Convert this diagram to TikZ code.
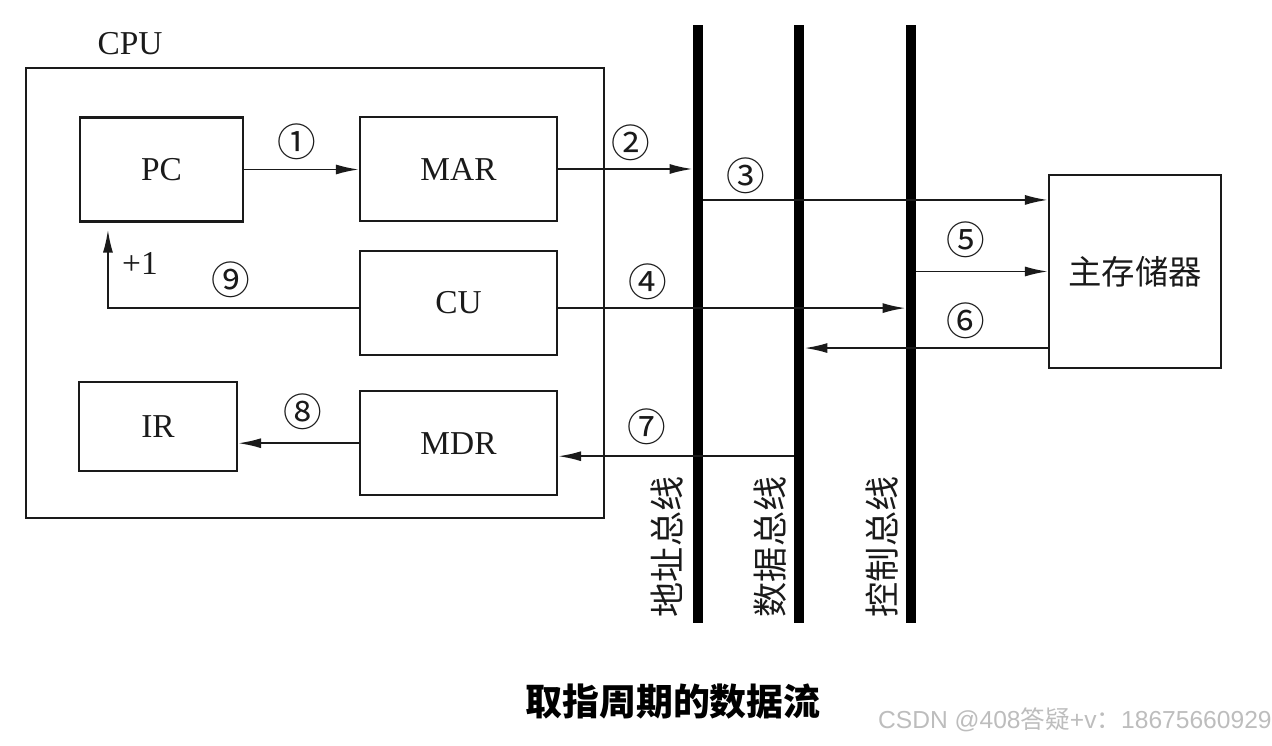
\documentclass[tikz,border=0pt]{standalone}
\usepackage{fontspec}
\setmainfont{Liberation Serif}
\setsansfont{Liberation Sans}
\newfontfamily\cjk{Noto Sans CJK SC}
\usetikzlibrary{arrows.meta,positioning,calc}
\definecolor{linedark}{HTML}{1A1A1A}
\definecolor{markgray}{HTML}{BDBDBD}
\tikzset{
  >=Latex,
  reg/.style={
    rectangle, draw=linedark, line width=1.2pt, align=center,
    minimum width=3.94cm, minimum height=2.08cm, inner sep=0pt,
    font=\fontsize{19}{22}\selectfont, text=linedark
  },
  bus/.style={rectangle, fill=black, minimum width=0.2cm, minimum height=11.96cm, inner sep=0pt},
  buslabel/.style={rotate=90, font=\cjk\fontsize{20}{22}\selectfont, text=linedark},
  arrow/.style={-{Latex[length=4.6mm,width=2mm]}, line width=1.1pt, draw=linedark},
  circnum/.style={font=\cjk\fontsize{22}{24}\selectfont, inner sep=0pt, text=linedark},
  plain/.style={font=\fontsize{19}{22}\selectfont, inner sep=0pt, text=linedark},
  title/.style={font=\cjk\bfseries\fontsize{21}{24}\selectfont},
  watermark/.style={font=\sffamily\fontsize{14}{16}\selectfont, text=markgray, inner sep=0pt}
}

\begin{document}
\begin{tikzpicture}
\useasboundingbox (0,0) rectangle (25.44,14.9);
\node[draw=linedark, line width=1.2pt, minimum width=11.56cm, minimum height=9cm, inner sep=0pt] (cpu) at (6.30,9.04) {};
\node[plain] (cpulabel) at (2.60,14.02) {CPU};
\node[reg, minimum width=3.26cm] (pc) at (3.23,11.51) {PC};
\node[reg] (mar) at (9.17,11.52) {MAR};
\node[reg, below=0.56cm of mar] (cu) {CU};
\node[reg, below=0.68cm of cu] (mdr) {MDR};
\node[reg, minimum width=3.16cm, minimum height=1.78cm] (ir) at (3.16,6.37) {IR};
\node[reg, minimum width=3.44cm, minimum height=3.86cm] (mem) at (22.70,9.47) {\cjk 主存储器};
\node[bus] (abus) at (13.96,8.42) {};
\node[bus] (dbus) at (15.98,8.42) {};
\node[bus] (cbus) at (18.22,8.42) {};
\node[buslabel] (alabel) at (13.34,3.96) {地址总线};
\node[buslabel] (dlabel) at (15.40,3.96) {数据总线};
\node[buslabel] (clabel) at (17.64,3.96) {控制总线};
\coordinate (m3) at ([yshift=-0.52cm]mem.north west);
\coordinate (m6) at ([yshift=0.42cm]mem.south west);
\coordinate (d7) at ([yshift=-0.26cm]mdr.east);
\coordinate (c4) at ([yshift=-0.1cm]cu.east);
\coordinate (c9) at ([yshift=-0.1cm]cu.west);
\draw[arrow] (pc.east) -- (pc.east -| mar.west);
\draw[arrow] (mar.east) -- (mar.east -| abus.west);
\draw[arrow] (m3 -| abus.east) -- (m3);
\draw[arrow] (c4) -- (c4 -| cbus.west);
\draw[arrow] (mem.west -| cbus.east) -- (mem.west);
\draw[arrow] (m6) -- (m6 -| dbus.east);
\draw[arrow] (d7 -| dbus.west) -- (d7);
\draw[arrow] (mdr.west) -- (mdr.west -| ir.east);
\draw[arrow] (c9) -| ([xshift=0.58cm,yshift=-0.14cm]pc.south west);
\node[circnum] (n1) at (5.94,12.06) {①};
\node[circnum] (n2) at (12.62,12.04) {②};
\node[circnum] (n3) at (14.92,11.38) {③};
\node[circnum] (n4) at (12.96,9.26) {④};
\node[circnum] (n5) at (19.32,10.10) {⑤};
\node[circnum] (n6) at (19.32,8.48) {⑥};
\node[circnum] (n7) at (12.94,6.36) {⑦};
\node[circnum] (n8) at (6.06,6.66) {⑧};
\node[circnum] (n9) at (4.62,9.30) {⑨};
\node[plain] (inc) at (2.80,9.64) {+1};
\node[title] (cap) at (13.46,0.86) {取指周期的数据流};
\node[watermark, anchor=east] (wm) at (25.44,0.50) {CSDN @408{\cjk 答疑}+v{\cjk ：}18675660929};
\end{tikzpicture}
\end{document}
